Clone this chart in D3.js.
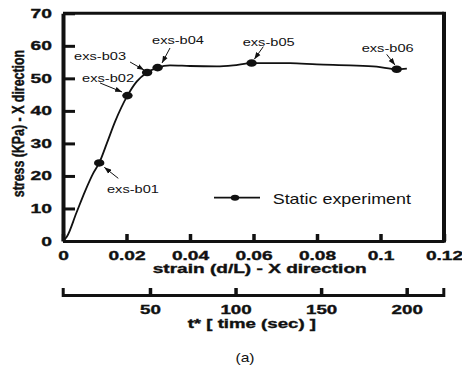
<!DOCTYPE html>
<html>
<head>
<meta charset="utf-8">
<script src="https://cdn.jsdelivr.net/npm/d3@7"></script>
<style>
  body { margin: 0; background: #fff; }
  svg { display: block; font-family: "Liberation Sans", Arial, sans-serif; }
  .heavy { stroke: #111; stroke-width: 0.35px; }
</style>
</head>
<body>
<div id="chart"></div>
<script>
// measured curve (strain, stress)
const strain = [0, 0.0012, 0.0042, 0.0069, 0.0095, 0.0114, 0.0138, 0.0164, 0.0203, 0.0232, 0.0265, 0.0298,
                0.0337, 0.0400, 0.0484, 0.0536, 0.0594, 0.0642, 0.0715, 0.0799, 0.0904, 0.0988, 0.1051, 0.1083];
const stress = [0, 1.3, 8.6, 15.2, 20.8, 24.0, 30.0, 36.7, 44.7, 49.0, 51.8, 53.3,
                54.0, 53.8, 53.7, 54.0, 54.7, 54.7, 54.7, 54.3, 54.0, 53.6, 52.8, 53.0];

// labelled experiment points
const markerLabels = ["exs-b01", "exs-b02", "exs-b03", "exs-b04", "exs-b05", "exs-b06"];
const markerStrain = [0.0114, 0.0203, 0.0265, 0.0298, 0.0594, 0.1051];
const markerStress = [24.0, 44.7, 51.8, 53.3, 54.7, 52.8];

const strainTicks = [0, 0.02, 0.04, 0.06, 0.08, 0.1, 0.12];
const stressTicks = [0, 10, 20, 30, 40, 50, 60, 70];
const timeTicks = [50, 100, 150, 200];
const timeDomain = [-1, 221.4];

// label + arrow offsets from each marker (px)
const noteLayout = [
  {lx: 7.8, ly: 29.6, ax: 19.1, ay: 15.4, bx: 5.1, by: 4.4},
  {lx: -45.4, ly: -13.9, ax: -27.4, ay: -12.6, bx: -5.4, by: -3.6},
  {lx: -73.1, ly: -12.5, ax: -17.1, ay: -10.5, bx: -3.1, by: -2.5},
  {lx: -5.6, ly: -23.3, ax: 12.4, ay: -19.6, bx: 4.4, by: -4.6},
  {lx: -8.9, ly: -17.4, ax: 11.7, ay: -16.4, bx: 2.7, by: -3.8},
  {lx: -35, ly: -17.5, ax: -10, ay: -14.9, bx: -1.7, by: -4.2}
];

const W = 462, H = 368;
const pLeft = 63, pRight = 444, pTop = 13.3, pBottom = 241;
const ink = "#111";

const svg = d3.select("#chart").append("svg")
    .attr("width", W)
    .attr("height", H);

const x = d3.scaleLinear().domain([0, 0.12]).range([pLeft, pRight]);
const y = d3.scaleLinear().domain([0, 70]).range([pBottom, pTop]);
const t = d3.scaleLinear().domain(timeDomain).range([62.7, 443.3]);

// text in the picture is wider than normal, stretch it
function stretch(sel, sx) {
  sel.each(function() {
    const el = d3.select(this);
    const tx = +el.attr("x") || 0;
    el.attr("x", 0).attr("transform", `translate(${tx},0) scale(${sx},1)`);
  });
}

// frame top + right
svg.append("line").attr("x1", pLeft).attr("x2", pRight).attr("y1", pTop).attr("y2", pTop)
    .attr("stroke", ink).attr("stroke-width", 3);
svg.append("line").attr("x1", pRight).attr("x2", pRight).attr("y1", pTop - 1.5).attr("y2", pBottom + 1.5)
    .attr("stroke", ink).attr("stroke-width", 4);

// X axis
const gx = svg.append("g")
    .attr("transform", `translate(0,${pBottom})`)
    .call(d3.axisBottom(x).tickValues(strainTicks).tickFormat(d => d)
      .tickSizeInner(-7).tickSizeOuter(0).tickPadding(10));
gx.select(".domain").attr("stroke", ink).attr("stroke-width", 3);
gx.selectAll(".tick line").attr("stroke", ink).attr("stroke-width", 3.5);
gx.selectAll("text").attr("font-size", 12.2).attr("font-weight", "bold").attr("fill", ink)
    .attr("class", "heavy")
    .attr("font-family", "Liberation Sans, Arial, sans-serif").call(stretch, 1.57);

// Y axis
const gy = svg.append("g")
    .attr("transform", `translate(${pLeft},0)`)
    .call(d3.axisLeft(y).tickValues(stressTicks)
      .tickSizeInner(-12).tickSizeOuter(0).tickPadding(11));
gy.select(".domain").attr("stroke", ink).attr("stroke-width", 4);
gy.selectAll(".tick line").attr("stroke", ink).attr("stroke-width", 3);
gy.selectAll("text").attr("font-size", 12.5).attr("font-weight", "bold").attr("fill", ink)
    .attr("class", "heavy")
    .attr("font-family", "Liberation Sans, Arial, sans-serif").call(stretch, 1.54);

// time axis
const gt = svg.append("g")
    .attr("transform", "translate(0,295)")
    .call(d3.axisBottom(t).tickValues(timeTicks)
      .tickSizeInner(-7).tickSizeOuter(-7).tickPadding(9.8));
gt.select(".domain").attr("stroke", ink).attr("stroke-width", 3);
gt.selectAll(".tick line").attr("stroke", ink).attr("stroke-width", 3.5);
gt.selectAll("text").attr("font-size", 12.5).attr("font-weight", "bold").attr("fill", ink)
    .attr("class", "heavy")
    .attr("font-family", "Liberation Sans, Arial, sans-serif").call(stretch, 1.5);

// axis titles
svg.append("text").attr("class", "heavy").attr("transform", "translate(259.7,272.5) scale(1.55,1)")
    .attr("text-anchor", "middle").attr("font-size", 12.3).attr("font-weight", "bold").attr("fill", ink)
    .text("strain (d/L) - X direction");
svg.append("text").attr("class", "heavy").attr("transform", "translate(251.8,328) scale(1.49,1)")
    .attr("text-anchor", "middle").attr("font-size", 12.5).attr("font-weight", "bold").attr("fill", ink)
    .text("t* [ time (sec) ]");
svg.append("text").attr("class", "heavy").attr("transform", "translate(23.7,123.5) rotate(-90) scale(1,1.29)")
    .attr("text-anchor", "middle").attr("font-size", 12.4).attr("font-weight", "bold").attr("fill", ink)
    .text("stress (KPa) - X direction");
svg.append("text").attr("transform", "translate(245,361.5) scale(1.3,1)")
    .attr("text-anchor", "middle").attr("font-size", 12).attr("fill", ink)
    .text("(a)");

// curve
const line = d3.line().x(i => x(strain[i])).y(i => y(stress[i])).curve(d3.curveMonotoneX);
svg.append("path")
    .attr("d", line(d3.range(strain.length)))
    .attr("fill", "none").attr("stroke", ink).attr("stroke-width", 1.8);

// markers
svg.selectAll("ellipse.pt")
  .data(markerStrain)
  .join("ellipse")
    .attr("class", "pt")
    .attr("cx", d => x(d))
    .attr("cy", (d, i) => y(markerStress[i]))
    .attr("rx", 5.2).attr("ry", 3.8)
    .attr("fill", ink);

// arrowheads
svg.append("defs").append("marker")
    .attr("id", "head").attr("markerUnits", "userSpaceOnUse")
    .attr("viewBox", "0 -3 7 6").attr("refX", 7).attr("refY", 0)
    .attr("markerWidth", 7).attr("markerHeight", 6).attr("orient", "auto")
  .append("path").attr("d", "M0,-2.6L7,0L0,2.6Z").attr("fill", ink);

const notes = svg.append("g");
markerLabels.forEach((lab, i) => {
  const mx = x(markerStrain[i]), my = y(markerStress[i]);
  const n = noteLayout[i];
  notes.append("line")
      .attr("x1", mx + n.ax).attr("y1", my + n.ay)
      .attr("x2", mx + n.bx).attr("y2", my + n.by)
      .attr("stroke", ink).attr("stroke-width", 1)
      .attr("marker-end", "url(#head)");
  notes.append("text")
      .attr("transform", `translate(${mx + n.lx},${my + n.ly}) scale(1.26,1)`)
      .attr("font-size", 11.6).attr("fill", ink)
      .text(lab);
});

// legend
const lg = svg.append("g").attr("transform", "translate(0,197.7)");
lg.append("line").attr("x1", 214).attr("x2", 260).attr("y1", 0).attr("y2", 0)
    .attr("stroke", ink).attr("stroke-width", 1.8);
lg.append("ellipse").attr("cx", 235).attr("cy", 0).attr("rx", 4.2).attr("ry", 3)
    .attr("fill", ink);
lg.append("text").attr("transform", "translate(272.7,6.3) scale(1.28,1)")
    .attr("font-size", 14).attr("fill", ink)
    .text("Static experiment");
</script>
</body>
</html>
